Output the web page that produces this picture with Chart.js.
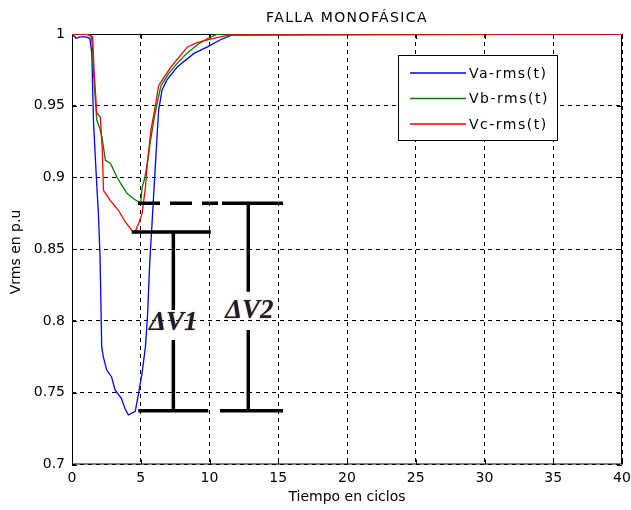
<!DOCTYPE html>
<html>
<head>
<meta charset="utf-8">
<script src="https://cdn.jsdelivr.net/npm/chart.js@4.4.1/dist/chart.umd.min.js"></script>
<style>
  html, body { margin: 0; padding: 0; background: #fff; }
  #wrap { width: 631px; height: 510px; }
</style>
</head>
<body>
<div id="wrap"><canvas id="chart" width="631" height="510"></canvas></div>
<script>
// rms voltage per phase (p.u.) against time in cycles
const vaT = [0, 0.3, 0.6, 1.0, 1.3, 1.44, 1.56, 1.68, 1.8, 1.92, 2.04, 2.16, 2.28, 2.52, 2.88, 3.13, 3.6, 3.85, 4.1, 4.6, 4.85, 5.1, 5.34, 5.5, 5.65, 5.82, 6.0, 6.2, 6.3, 6.55, 6.9, 7.65, 8.87, 9.85, 10.8, 11.65, 40];
const vaV = [1, 0.997, 0.998, 0.998, 0.997, 0.987, 0.94, 0.917, 0.895, 0.875, 0.845, 0.782, 0.775, 0.766, 0.761, 0.752, 0.746, 0.739, 0.7345, 0.737, 0.75, 0.764, 0.782, 0.805, 0.84, 0.868, 0.898, 0.931, 0.947, 0.961, 0.968, 0.977, 0.9865, 0.991, 0.996, 0.9993, 1];

const vbT = [0, 1.0, 1.4, 1.5, 1.57, 1.8, 2.0, 2.18, 2.43, 2.79, 3.28, 3.6, 4.0, 4.5, 4.85, 5.0, 5.1, 5.3, 5.48, 5.7, 5.95, 6.2, 6.47, 7.0, 7.6, 8.4, 9.2, 9.9, 10.6, 40];
const vbV = [1, 1, 0.999, 0.99, 0.9725, 0.94, 0.935, 0.928, 0.912, 0.91, 0.9, 0.895, 0.889, 0.885, 0.883, 0.8825, 0.893, 0.9, 0.91, 0.925, 0.94, 0.952, 0.964, 0.972, 0.979, 0.987, 0.993, 0.997, 1, 1];

const vcT = [0, 1.0, 1.5, 1.6, 1.8, 2.06, 2.2, 2.29, 2.78, 3.39, 3.88, 4.37, 4.6, 4.85, 5.1, 5.22, 5.34, 5.48, 5.74, 6.1, 6.3, 6.7, 7.2, 7.8, 8.4, 9.1, 9.9, 10.8, 11.8, 40];
const vcV = [1, 1, 0.998, 0.975, 0.945, 0.942, 0.92, 0.891, 0.884, 0.877, 0.869, 0.863, 0.8625, 0.868, 0.875, 0.884, 0.893, 0.91, 0.933, 0.952, 0.964, 0.97, 0.977, 0.984, 0.991, 0.994, 0.996, 0.998, 1, 1];

const seriesNames = ['Va-rms(t)', 'Vb-rms(t)', 'Vc-rms(t)'];
const seriesColors = ['#0000ff', '#008000', '#ff0000'];

// sag levels and the brackets that measure them
const levelB = 0.882;   // phase b minimum
const levelC = 0.862;   // phase c minimum
const levelA = 0.7375;  // phase a minimum
const dv1X = 7.37;
const dv2X = 12.82;
const dv1Gap = [0.8077, 0.7867];
const dv2Gap = [0.8204, 0.7937];
const dvNames = ['ΔV1', 'ΔV2'];
const dvLabelT = [7.37, 12.9];
const dvLabelV = [0.7986, 0.807];

const xTicks = [0, 5, 10, 15, 20, 25, 30, 35, 40];
const yTicks = [0.7, 0.75, 0.8, 0.85, 0.9, 0.95, 1];

const pts = (xs, ys) => xs.map((x, i) => ({ x, y: ys[i] }));

// segments [x1, y1, x2, y2] joined with null gaps
const segs = (list) => {
  const out = [];
  list.forEach(([x1, y1, x2, y2]) => {
    out.push({ x: x1, y: y1 }, { x: x2, y: y2 }, { x: x2, y: null });
  });
  return out;
};

const bracketSolid = segs([
  [10.9, levelB, 15.35, levelB],
  [4.34, levelC, 10.1, levelC],
  [4.82, levelA, 9.91, levelA],
  [10.76, levelA, 15.35, levelA],
  [dv1X, levelC, dv1X, dv1Gap[0]],
  [dv1X, dv1Gap[1], dv1X, levelA],
  [dv2X, levelB, dv2X, dv2Gap[0]],
  [dv2X, dv2Gap[1], dv2X, levelA],
]);
const bracketDashed = segs([[4.8, levelB, 10.62, levelB]]);

const curve = (t, v, i, order) => ({
  label: seriesNames[i],
  data: pts(t, v),
  borderColor: seriesColors[i],
  borderWidth: 1.3,
  pointRadius: 0,
  tension: 0,
  order,
});

const mark = (data, dash) => ({
  label: '',
  data,
  borderColor: '#000',
  borderWidth: 3.5,
  borderDash: dash,
  borderCapStyle: 'butt',
  pointRadius: 0,
  spanGaps: false,
  order: 0,
  isMark: true,
});

const sans = 'DejaVu Sans, sans-serif';

const frame = {
  id: 'frame',
  beforeDatasetsDraw(chart) {
    const { ctx, chartArea: a, scales: { x, y } } = chart;
    ctx.save();
    ctx.strokeStyle = '#000';
    ctx.lineWidth = 1;
    ctx.strokeRect(a.left + 0.5, a.top + 0.5, a.right - a.left - 1, a.bottom - a.top - 1);
    ctx.beginPath();
    xTicks.forEach((v) => {
      const px = Math.round(x.getPixelForValue(v)) + 0.5;
      ctx.moveTo(px, a.bottom); ctx.lineTo(px, a.bottom - 5);
      ctx.moveTo(px, a.top); ctx.lineTo(px, a.top + 5);
    });
    yTicks.forEach((v) => {
      const py = Math.round(y.getPixelForValue(v)) + 0.5;
      ctx.moveTo(a.left, py); ctx.lineTo(a.left + 5, py);
      ctx.moveTo(a.right, py); ctx.lineTo(a.right - 5, py);
    });
    ctx.stroke();
    ctx.restore();
  },
  afterDatasetsDraw(chart) {
    const { ctx, scales: { x, y } } = chart;
    ctx.save();

    // bracket labels
    ctx.font = 'italic bold 27px "Liberation Serif", serif';
    ctx.textAlign = 'center';
    ctx.textBaseline = 'middle';
    ctx.fillStyle = '#1a1a30';
    ctx.shadowColor = 'rgba(200, 120, 20, 0.8)';
    ctx.shadowBlur = 1.5;
    dvNames.forEach((name, i) => {
      ctx.fillText(name, x.getPixelForValue(dvLabelT[i]), y.getPixelForValue(dvLabelV[i]));
    });
    ctx.shadowColor = 'transparent';
    ctx.shadowBlur = 0;

    // legend box
    const box = { left: 398, top: 55, width: 159, height: 85 };
    ctx.fillStyle = '#fff';
    ctx.fillRect(box.left, box.top, box.width, box.height);
    ctx.strokeStyle = '#000';
    ctx.lineWidth = 1;
    ctx.strokeRect(box.left + 0.5, box.top + 0.5, box.width, box.height);
    ctx.font = `14px ${sans}`;
    ctx.letterSpacing = '1.5px';
    ctx.textAlign = 'left';
    ctx.textBaseline = 'middle';
    chart.data.datasets.filter((d) => !d.isMark).forEach((d, i) => {
      const rowY = 73 + i * 25.5;
      ctx.strokeStyle = d.borderColor;
      ctx.lineWidth = 1.3;
      ctx.beginPath();
      ctx.moveTo(410, rowY);
      ctx.lineTo(466, rowY);
      ctx.stroke();
      ctx.fillStyle = '#000';
      ctx.fillText(d.label, 469, rowY + 1);
    });
    ctx.restore();
  },
  afterDraw(chart) {
    const { ctx, chartArea: a } = chart;
    const midX = (a.left + a.right) / 2;
    ctx.save();
    ctx.fillStyle = '#000';
    ctx.textAlign = 'center';
    ctx.textBaseline = 'middle';
    ctx.font = `14px ${sans}`;
    ctx.letterSpacing = '1.4px';
    ctx.fillText('FALLA MONOFÁSICA', midX, 18);
    ctx.letterSpacing = '0px';
    ctx.fillText('Tiempo en ciclos', midX, 497);
    ctx.translate(16, 252);
    ctx.rotate(-Math.PI / 2);
    ctx.fillText('Vrms en p.u', 0, 0);
    ctx.restore();
  },
};

new Chart(document.getElementById('chart'), {
  type: 'line',
  data: {
    datasets: [
      curve(vaT, vaV, 0, 3),
      curve(vbT, vbV, 1, 2),
      curve(vcT, vcV, 2, 1),
      mark(bracketSolid, []),
      mark(bracketDashed, [22, 10]),
    ],
  },
  options: {
    responsive: false,
    animation: false,
    events: [],
    layout: { padding: { left: 0, top: 34, right: 9, bottom: 0 } },
    plugins: { legend: { display: false }, tooltip: { enabled: false }, title: { display: false } },
    scales: {
      x: {
        type: 'linear',
        min: 0,
        max: 40,
        afterFit: (scale) => {
          scale.height = 45.5;
          scale.paddingLeft = 0;
          scale.paddingRight = 0;
        },
        ticks: { stepSize: 5, padding: 5, color: '#000', font: { family: sans, size: 14 }, maxRotation: 0 },
        grid: { color: '#000', lineWidth: 1, drawTicks: false },
        border: { display: false, dash: [4, 4] },
      },
      y: {
        min: 0.7,
        max: 1,
        afterFit: (scale) => { scale.width = 72; },
        ticks: {
          stepSize: 0.05,
          padding: 7,
          color: '#000',
          font: { family: sans, size: 14 },
          callback: (v) => String(Number(v.toFixed(2))),
        },
        grid: { color: '#000', lineWidth: 1, drawTicks: false },
        border: { display: false, dash: [4, 4] },
      },
    },
  },
  plugins: [frame],
});
</script>
</body>
</html>
